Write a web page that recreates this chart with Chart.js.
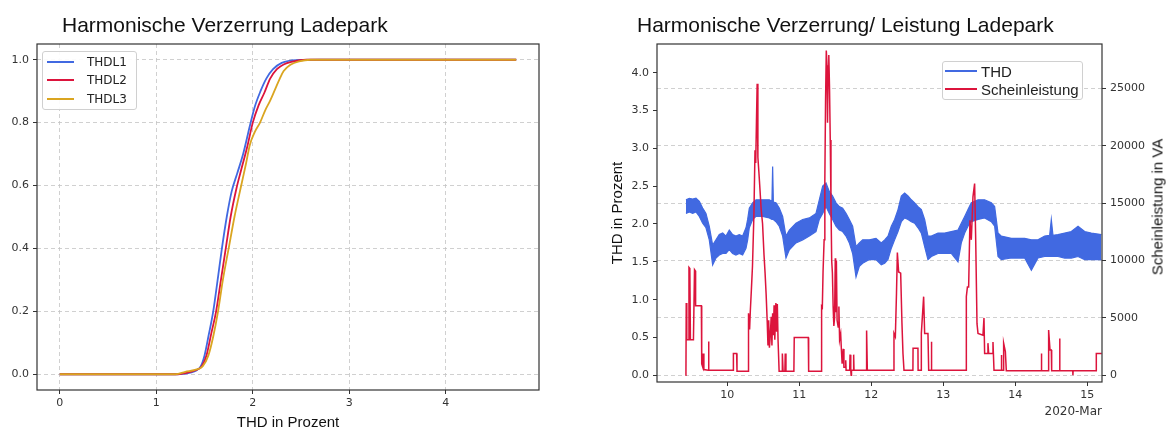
<!DOCTYPE html>
<html><head><meta charset="utf-8">
<script src="https://cdn.jsdelivr.net/npm/chart.js@4.4.1/dist/chart.umd.min.js"></script>
<style>
html,body{margin:0;padding:0;background:#fff;}
#wrap{position:relative;width:1173px;height:430px;overflow:hidden;background:#fff;}
canvas{position:absolute;top:0;}
.title{position:absolute;font-family:"Liberation Sans",Arial,sans-serif;font-size:21px;line-height:21px;color:#111;white-space:nowrap;}
.legbox{position:absolute;background:rgba(255,255,255,0.9);border:1px solid #d0d0d0;border-radius:3px;box-sizing:border-box;}
.sw{position:absolute;height:2px;}
.lt{position:absolute;white-space:nowrap;color:#222;}
.vlab{position:absolute;font-family:"Liberation Sans",Arial,sans-serif;font-size:15px;line-height:15px;color:#111;white-space:nowrap;transform:translate(-50%,-50%) rotate(-90deg);}
</style></head>
<body><div id="wrap">
<canvas id="c1" width="580" height="430" style="left:0;width:580px;height:430px"></canvas>
<canvas id="c2" width="593" height="430" style="left:580px;width:593px;height:430px"></canvas>
<div class="title" style="left:62px;top:14px">Harmonische Verzerrung Ladepark</div>
<div class="title" style="left:637px;top:14px">Harmonische Verzerrung/ Leistung Ladepark</div>
<div class="vlab" style="left:1157px;top:207px">Scheinleistung in VA</div>
</div>
<script>
// ---- Left chart: cumulative distributions ----
const cdfLabels = ['THDL1', 'THDL2', 'THDL3'];
const cdfColors = ['#4169E1', '#DC143C', '#DAA520'];
const cdfX1 = [0, 1.2, 1.3, 1.4, 1.46, 1.5, 1.54, 1.59, 1.64, 1.68, 1.73, 1.78, 1.84, 1.9, 1.97, 2.02, 2.08, 2.14, 2.21, 2.3, 2.45, 2.7, 4.73];
const cdfY1 = [0, 0, 0.002, 0.01, 0.025, 0.06, 0.12, 0.2, 0.31, 0.4, 0.5, 0.58, 0.64, 0.7, 0.79, 0.85, 0.9, 0.94, 0.97, 0.99, 0.999, 1, 1];
const cdfX2 = [0, 1.2, 1.3, 1.4, 1.47, 1.52, 1.57, 1.62, 1.67, 1.72, 1.77, 1.83, 1.88, 1.94, 2.0, 2.06, 2.12, 2.18, 2.25, 2.32, 2.4, 2.56, 2.7, 4.73];
const cdfY2 = [0, 0, 0.004, 0.012, 0.025, 0.06, 0.13, 0.2, 0.3, 0.4, 0.5, 0.59, 0.65, 0.72, 0.8, 0.855, 0.895, 0.94, 0.97, 0.985, 0.993, 1, 1, 1];
const cdfX3 = [0, 1.2, 1.3, 1.4, 1.48, 1.54, 1.59, 1.64, 1.69, 1.75, 1.81, 1.88, 1.93, 1.97, 2.02, 2.075, 2.13, 2.18, 2.23, 2.28, 2.32, 2.39, 2.48, 2.6, 4.73];
const cdfY3 = [0, 0, 0.008, 0.014, 0.025, 0.06, 0.12, 0.2, 0.3, 0.4, 0.5, 0.6, 0.67, 0.73, 0.77, 0.8, 0.84, 0.87, 0.905, 0.94, 0.964, 0.984, 0.995, 1, 1];
const xTicksL = [0, 1, 2, 3, 4];
const yTicksL = [0, 0.2, 0.4, 0.6, 0.8, 1.0];

// ---- Right chart: THD band and apparent power over time (day of March 2020) ----
const thdT = [9.426, 9.473, 9.519, 9.565, 9.612, 9.658, 9.704, 9.75, 9.797, 9.843,
  9.889, 9.936, 9.982, 10.028, 10.074, 10.12, 10.167, 10.213, 10.26, 10.283,
  10.306, 10.352, 10.399, 10.491, 10.584, 10.62, 10.63, 10.64, 10.676, 10.722,
  10.769, 10.815, 10.862, 10.954, 11.047, 11.14, 11.232, 11.278, 11.325, 11.371,
  11.417, 11.463, 11.51, 11.556, 11.602, 11.649, 11.695, 11.741, 11.788, 11.834,
  11.88, 11.973, 12.065, 12.139, 12.186, 12.232, 12.278, 12.324, 12.371, 12.417,
  12.463, 12.51, 12.556, 12.602, 12.649, 12.695, 12.741, 12.787, 12.834, 12.926,
  13.019, 13.111, 13.204, 13.25, 13.297, 13.343, 13.389, 13.482, 13.574, 13.667,
  13.713, 13.76, 13.806, 13.945, 14.13, 14.223, 14.315, 14.408, 14.477, 14.5,
  14.523, 14.593, 14.686, 14.778, 14.871, 14.963, 15.056, 15.195];
const thdHi = [2.32, 2.34, 2.33, 2.34, 2.30, 2.21, 2.14, 1.97, 1.72, 1.79,
  1.86, 1.88, 1.84, 1.92, 1.86, 1.84, 1.86, 1.84, 1.95, 2.06,
  2.21, 2.28, 2.32, 2.32, 2.32, 2.30, 2.76, 2.29, 2.28, 2.21,
  2.10, 1.84, 1.92, 2.01, 2.06, 2.08, 2.14, 2.32, 2.50, 2.54,
  2.43, 2.37, 2.28, 2.23, 2.21, 2.14, 2.06, 1.97, 1.70, 1.75,
  1.79, 1.79, 1.81, 1.75, 1.79, 1.84, 1.97, 2.06, 2.19, 2.37,
  2.41, 2.37, 2.32, 2.28, 2.23, 2.19, 2.06, 1.84, 1.84, 1.88,
  1.88, 1.90, 1.92, 2.01, 2.10, 2.19, 2.28, 2.32, 2.32, 2.28,
  2.23, 1.88, 1.84, 1.81, 1.81, 1.79, 1.79, 1.84, 1.85, 2.06,
  1.85, 1.86, 1.88, 1.90, 1.97, 1.90, 1.88, 1.86];
const thdLo = [2.14, 2.16, 2.14, 2.16, 2.10, 2.01, 1.95, 1.79, 1.46, 1.55,
  1.59, 1.61, 1.61, 1.66, 1.61, 1.59, 1.61, 1.59, 1.68, 1.79,
  1.95, 2.06, 2.10, 2.10, 2.08, 2.06, 2.06, 2.06, 2.03, 1.97,
  1.84, 1.55, 1.66, 1.75, 1.79, 1.84, 1.90, 2.06, 2.14, 2.23,
  2.14, 2.06, 1.97, 1.92, 1.90, 1.84, 1.75, 1.61, 1.30, 1.44,
  1.48, 1.53, 1.53, 1.46, 1.48, 1.53, 1.68, 1.79, 1.90, 2.03,
  2.08, 2.06, 2.03, 2.01, 1.95, 1.88, 1.70, 1.53, 1.57, 1.61,
  1.61, 1.61, 1.50, 1.75, 1.88, 1.97, 2.03, 2.06, 2.08, 2.03,
  1.97, 1.57, 1.53, 1.55, 1.55, 1.39, 1.55, 1.57, 1.57, 1.57,
  1.57, 1.57, 1.55, 1.55, 1.57, 1.53, 1.53, 1.53];
const pwrT = [9.42, 9.426, 9.43, 9.438, 9.46, 9.468, 9.48, 9.488, 9.53, 9.545,
  9.555, 9.56, 9.64, 9.645, 9.66, 9.665, 9.675, 9.735, 9.74, 9.745,
  10.08, 10.085, 10.13, 10.135, 10.29, 10.295, 10.31, 10.32, 10.335, 10.35,
  10.37, 10.385, 10.395, 10.405, 10.415, 10.425, 10.44, 10.455, 10.47, 10.49,
  10.51, 10.525, 10.54, 10.555, 10.565, 10.575, 10.585, 10.595, 10.61, 10.62,
  10.63, 10.64, 10.65, 10.66, 10.675, 10.685, 10.695, 10.705, 10.715, 10.72,
  10.76, 10.765, 10.775, 10.80, 10.805, 10.815, 10.925, 10.93, 11.125, 11.13,
  11.305, 11.31, 11.32, 11.33, 11.345, 11.355, 11.365, 11.375, 11.385, 11.392,
  11.40, 11.41, 11.42, 11.43, 11.44, 11.45, 11.46, 11.47, 11.48, 11.49,
  11.50, 11.505, 11.515, 11.525, 11.54, 11.55, 11.56, 11.575, 11.585, 11.595,
  11.61, 11.62, 11.64, 11.645, 11.65, 11.70, 11.705, 11.715, 11.72, 11.725,
  11.75, 11.755, 11.76, 11.93, 11.935, 11.945, 12.31, 12.315, 12.334, 12.35,
  12.362, 12.38, 12.408, 12.426, 12.44, 12.454, 12.578, 12.58, 12.648, 12.65,
  12.693, 12.695, 12.727, 12.741, 12.787, 12.797, 12.832, 12.834, 12.84, 13.318,
  13.32, 13.335, 13.352, 13.37, 13.389, 13.412, 13.435, 13.45, 13.468, 13.482,
  13.551, 13.565, 13.574, 13.618, 13.62, 13.63, 13.688, 13.69, 13.704, 13.804,
  13.806, 13.812, 13.836, 13.838, 13.862, 13.875, 14.36, 14.362, 14.367, 14.461,
  14.463, 14.482, 14.5, 14.505, 14.614, 14.616, 14.62, 14.798, 14.8, 14.803,
  15.123, 15.125, 15.2];
const pwrV = [0, 100, 6300, 3100, 3100, 9400, 9300, 3100, 3100, 9200,
  9100, 6050, 6050, 1000, 700, 1900, 500, 450, 2950, 450,
  450, 1900, 1900, 350, 350, 5400, 4000, 5600, 7500, 9500,
  14000, 19600, 18500, 22000, 25400, 19000, 17600, 16100, 14500, 13200,
  10500, 8900, 7000, 4600, 2600, 4800, 2400, 3200, 5100, 2600,
  5400, 3500, 6100, 3100, 6300, 3800, 6200, 3100, 3100, 350,
  350, 1900, 350, 350, 1900, 350, 350, 3300, 3300, 350,
  350, 6000, 5900, 9000, 11800, 17000, 24000, 28300, 27000, 22000,
  26000, 27900, 25000, 20500, 15000, 10000, 8900, 6000, 4300, 5000,
  10200, 5500, 10000, 4800, 4200, 6000, 3100, 3600, 2200, 1000,
  2300, 700, 700, 1300, 450, 450, 1800, 450, 0, 450,
  450, 1800, 450, 450, 3900, 450, 450, 3650, 3360, 7140,
  10700, 9000, 8900, 4500, 1900, 450, 450, 2350, 2350, 450,
  450, 3650, 6850, 3650, 3650, 450, 450, 2930, 450, 450,
  6850, 7700, 7700, 13500, 11800, 15550, 16700, 11800, 4500, 3650,
  3500, 5000, 1900, 1900, 2800, 1900, 1900, 2900, 450, 450,
  1770, 450, 450, 2800, 2060, 400, 400, 1900, 400, 400,
  3950, 2200, 2200, 400, 400, 3200, 400, 400, 0, 400,
  400, 1900, 1900];
const xTicksR = [10, 11, 12, 13, 14, 15];
const yTicksR = [0, 0.5, 1.0, 1.5, 2.0, 2.5, 3.0, 3.5, 4.0];
const y2TicksR = [0, 5000, 10000, 15000, 20000, 25000];
const legendR = ['THD', 'Scheinleistung'];

// ---- helpers ----
const pts = (xs, ys) => xs.map((x, i) => ({x: x, y: ys[i]}));
const fixedTicks = arr => scale => { scale.ticks = arr.map(v => ({value: v})); };
const SANS = "'Liberation Sans', Arial, sans-serif";
Chart.defaults.font.family = "'DejaVu Sans', sans-serif";
Chart.defaults.color = '#333';
Chart.defaults.animation = false;

const framePlugin = {
  id: 'frame',
  afterDatasetsDraw(chart) {
    const a = chart.chartArea, ctx = chart.ctx;
    ctx.save();
    ctx.strokeStyle = '#333';
    ctx.lineWidth = 1.2;
    ctx.strokeRect(a.left, a.top, a.right - a.left, a.bottom - a.top);
    ctx.restore();
  }
};
const gridDash = {display: false, dash: [4, 3]};
const tickFont = {size: 11};

const chart1 = new Chart(document.getElementById('c1'), {
  type: 'line',
  data: {
    datasets: [
      {label: cdfLabels[0], data: pts(cdfX1, cdfY1), borderColor: cdfColors[0]},
      {label: cdfLabels[1], data: pts(cdfX2, cdfY2), borderColor: cdfColors[1]},
      {label: cdfLabels[2], data: pts(cdfX3, cdfY3), borderColor: cdfColors[2]}
    ].map(d => Object.assign(d, {borderWidth: 1.8, pointRadius: 0, fill: false, cubicInterpolationMode: 'monotone'}))
      .reverse()
  },
  options: {
    responsive: false,
    layout: {padding: {top: 44, right: 41, bottom: 0, left: 0}},
    plugins: {legend: {display: false}, tooltip: {enabled: false}},
    scales: {
      x: {
        type: 'linear', min: -0.2365, max: 4.9665,
        afterBuildTicks: fixedTicks(xTicksL),
        afterFit(s) { s.height = 40; },
        grid: {color: '#c4c4c4', lineWidth: 0.8, tickLength: 4, tickColor: '#333', tickWidth: 1},
        border: gridDash,
        ticks: {font: tickFont, color: '#333', padding: 3, autoSkip: false, maxRotation: 0, callback: v => String(v)},
        title: {display: true, text: 'THD in Prozent', color: '#111', font: {family: SANS, size: 15, lineHeight: 1}, padding: {top: 0, bottom: 0}}
      },
      y: {
        type: 'linear', min: -0.05, max: 1.05,
        afterBuildTicks: fixedTicks(yTicksL),
        afterFit(s) { s.width = 37; },
        grid: {color: '#c4c4c4', lineWidth: 0.8, tickLength: 4, tickColor: '#333', tickWidth: 1},
        border: gridDash,
        ticks: {font: tickFont, color: '#333', padding: 4, autoSkip: false, callback: v => v.toFixed(1)}
      }
    }
  },
  plugins: [framePlugin]
});

const chart2 = new Chart(document.getElementById('c2'), {
  type: 'line',
  data: {
    datasets: [
      {label: 'Scheinleistung', data: pts(pwrT, pwrV), yAxisID: 'y2', borderColor: '#DC143C', borderWidth: 1.5, pointRadius: 0, fill: false},
      {label: 'THD', data: pts(thdT, thdHi), yAxisID: 'y', borderColor: '#4169E1', borderWidth: 1.2, pointRadius: 0, fill: false},
      {label: 'THD (min)', data: pts(thdT, thdLo), yAxisID: 'y', borderColor: '#4169E1', borderWidth: 1.2, pointRadius: 0, fill: '-1', backgroundColor: '#4169E1'}
    ]
  },
  options: {
    responsive: false,
    layout: {padding: {top: 44, right: 0, bottom: 0, left: 0}},
    plugins: {legend: {display: false}, tooltip: {enabled: false}},
    scales: {
      x: {
        type: 'linear', min: 9.024, max: 15.204,
        afterBuildTicks: fixedTicks(xTicksR),
        afterFit(s) { s.height = 48; },
        grid: {drawOnChartArea: false, tickLength: 4, tickColor: '#333', tickWidth: 1},
        border: {display: false},
        ticks: {font: tickFont, color: '#333', padding: 3, autoSkip: false, maxRotation: 0, callback: v => String(v)},
        title: {display: true, text: '2020-Mar', align: 'end', color: '#333', font: {size: 12, lineHeight: 1.2}, padding: {top: 0, bottom: 11}}
      },
      y: {
        type: 'linear', position: 'left', min: -0.0886, max: 4.379,
        afterBuildTicks: fixedTicks(yTicksR),
        afterFit(s) { s.width = 77; },
        grid: {drawOnChartArea: false, tickLength: 4, tickColor: '#333', tickWidth: 1},
        border: {display: false},
        ticks: {font: tickFont, color: '#333', padding: 4, autoSkip: false, callback: v => v.toFixed(1)},
        title: {display: true, text: 'THD in Prozent', color: '#111', font: {family: SANS, size: 15, lineHeight: 1}, padding: {top: 30.5, bottom: 0}}
      },
      y2: {
        type: 'linear', position: 'right', min: -584, max: 28859,
        afterBuildTicks: fixedTicks(y2TicksR),
        afterFit(s) { s.width = 71; },
        grid: {drawOnChartArea: true, color: '#c4c4c4', lineWidth: 0.8, tickLength: 4, tickColor: '#333', tickWidth: 1},
        border: gridDash,
        ticks: {font: tickFont, color: '#333', padding: 4, autoSkip: false, callback: v => String(v)}
      }
    }
  },
  plugins: [framePlugin]
});

// ---- HTML legends built from the chart datasets ----
const wrap = document.getElementById('wrap');
function addEl(cls, style, text) {
  const d = document.createElement('div');
  d.className = cls;
  Object.assign(d.style, style);
  if (text) d.textContent = text;
  wrap.appendChild(d);
}
function legend(box, items, rowY, swX, swW, txtX, font, lh) {
  addEl('legbox', {left: box[0] + 'px', top: box[1] + 'px', width: box[2] + 'px', height: box[3] + 'px'});
  items.forEach((it, i) => {
    addEl('sw', {left: swX + 'px', width: swW + 'px', top: (rowY[i] - 1) + 'px', background: it.color});
    addEl('lt', {left: txtX + 'px', top: (rowY[i] - lh / 2) + 'px', font: font, lineHeight: lh + 'px'}, it.label);
  });
}
legend([42, 51, 95, 59],
  cdfLabels.map(l => { const d = chart1.data.datasets.find(x => x.label === l); return {label: l, color: d.borderColor}; }),
  [61.5, 80, 98.5], 47, 27, 87, "12px 'DejaVu Sans', sans-serif", 14);
legend([942, 61, 141, 39],
  legendR.map(l => { const d = chart2.data.datasets.find(x => x.label === l); return {label: l, color: d.borderColor}; }),
  [71, 89], 945, 32, 981, "15px 'Liberation Sans', Arial, sans-serif", 17);
</script>
</body></html>
